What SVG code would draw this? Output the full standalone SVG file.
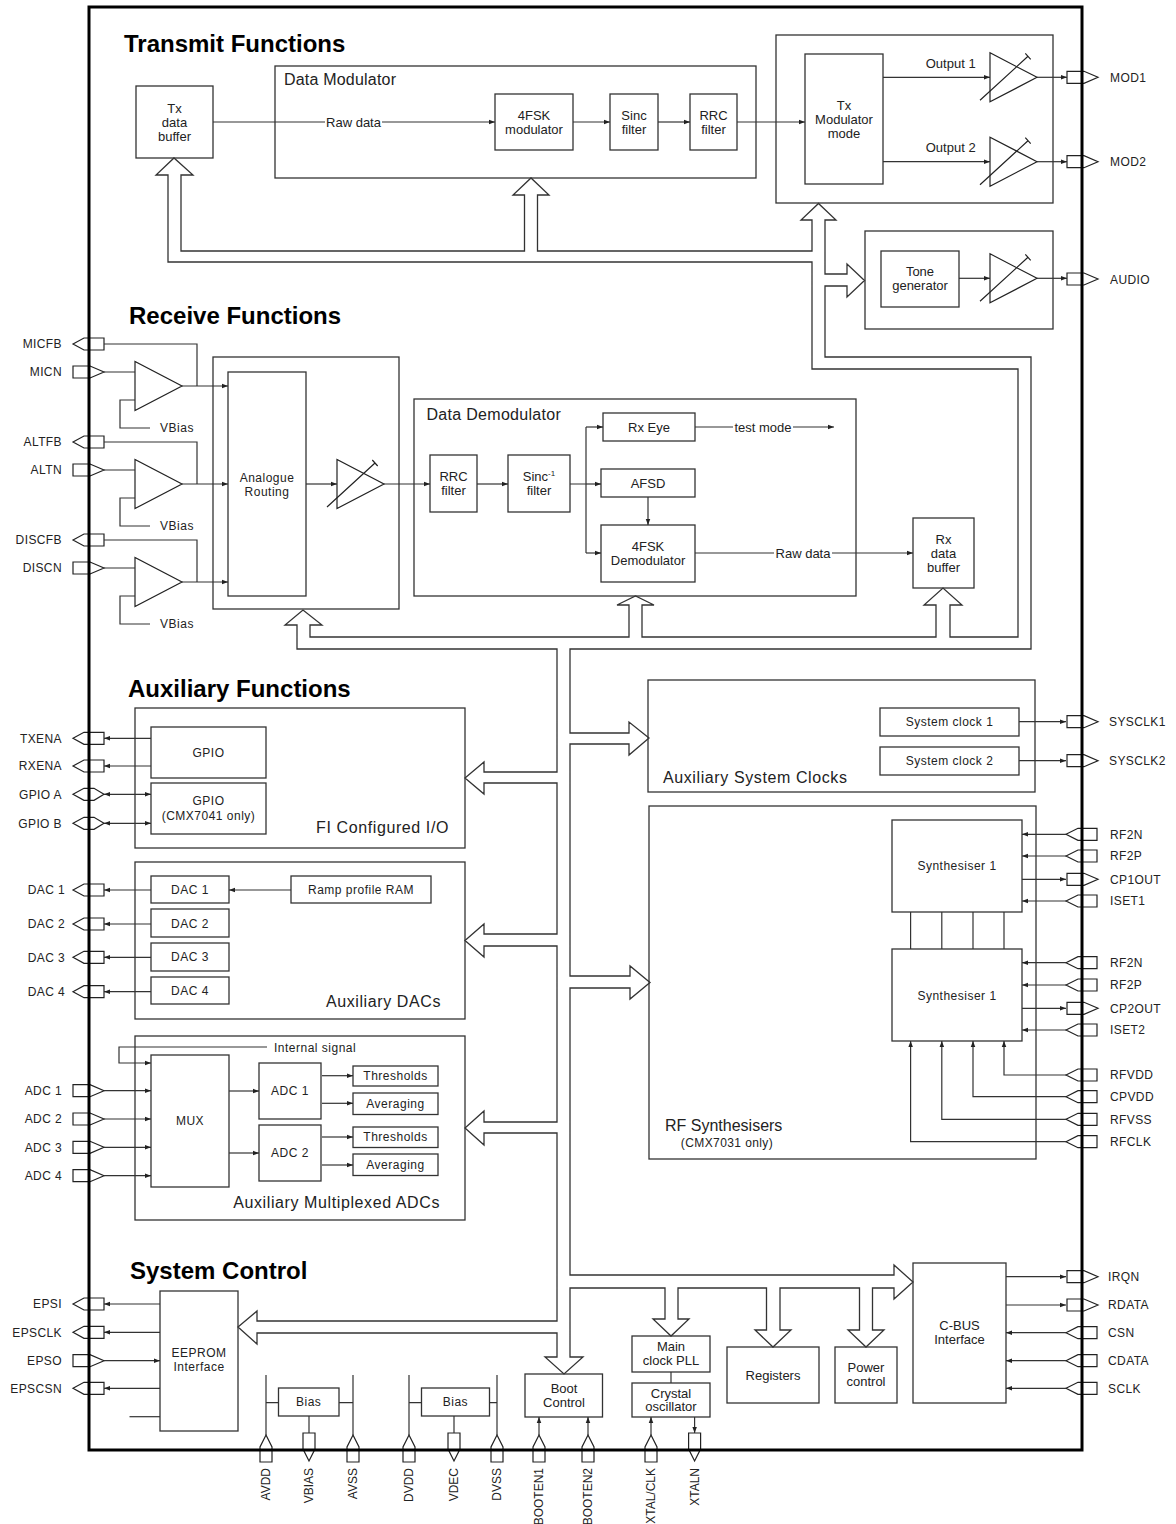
<svg xmlns="http://www.w3.org/2000/svg" xmlns:xlink="http://www.w3.org/1999/xlink" width="1176" height="1524" viewBox="0 0 1176 1524">
<defs>
<style>
.box{fill:none;stroke:#333;stroke-width:1.3}
.ln{fill:none;stroke:#333;stroke-width:1.2}
.ar{marker-end:url(#a)}
.ab{marker-start:url(#a);marker-end:url(#a)}
.bus{fill:none;stroke:#333;stroke-width:1.3;stroke-linejoin:miter}
.pin{fill:#fff;stroke:#222;stroke-width:1.2}
.amp{fill:none;stroke:#222;stroke-width:1.2}
text{font-family:"Liberation Sans",Arial,Helvetica,sans-serif;fill:#222}
.t{font-size:13px;text-anchor:middle}
.w{font-size:12px;letter-spacing:0.5px;text-anchor:middle}
.ws{font-size:12px;letter-spacing:0.5px;text-anchor:start}
.title{font-size:24px;font-weight:bold;fill:#000}
.sec{font-size:16px;letter-spacing:0.6px}
.pl{font-size:12px;letter-spacing:0.4px;text-anchor:end}
.pr{font-size:12px;letter-spacing:0.4px}
.pb{font-size:12px;text-anchor:end}
</style>
<marker id="a" viewBox="0 0 8 8" refX="8" refY="4" markerWidth="6" markerHeight="6" markerUnits="userSpaceOnUse" orient="auto-start-reverse"><path d="M0,1 L8,4 L0,7 Z" fill="#222"/></marker>
<path id="pLO" d="M-16,0 L-5,-6 H15 V6 H-5 Z"/>
<path id="pLI" d="M-16,-6 H1 L15,0 L1,6 H-16 Z"/>
<path id="pLB" d="M-16,0 L-5,-6 H5 L15,0 L5,6 H-5 Z"/>
<path id="pRO" d="M-15,-6 H2 L16,0 L2,6 H-15 Z"/>
<path id="pRI" d="M-16,0 L-4,-6 H15 V6 H-4 Z"/>
<path id="pBI" d="M0,-15 L6,-3 V12 H-6 V-3 Z"/>
<path id="pBO" d="M-6,-17 H6 V-1 L0,11 L-6,-1 Z"/>
<g id="vamp" class="amp"><path d="M0,-24.5 V24.5 L47,0 Z"/><path d="M-10,23 L38,-21 M35.3,-24 L40.7,-18"/></g>
<path id="amp" class="amp" d="M0,-24.5 V24.5 L47,0 Z"/>
</defs>
<rect width="1176" height="1524" fill="#fff"/>

<!-- pins -->
<g id="pins" class="pin">
<use href="#pRO" x="1082" y="77.3"/><use href="#pRO" x="1082" y="161.7"/><use href="#pRO" x="1082" y="279"/>
<use href="#pLO" x="89" y="344"/><use href="#pLI" x="89" y="372"/>
<use href="#pLO" x="89" y="442"/><use href="#pLI" x="89" y="470"/>
<use href="#pLO" x="89" y="540"/><use href="#pLI" x="89" y="568"/>
<use href="#pLO" x="89" y="738.3"/><use href="#pLO" x="89" y="766"/>
<use href="#pLB" x="89" y="794.3"/><use href="#pLB" x="89" y="823.3"/>
<use href="#pLO" x="89" y="890"/><use href="#pLO" x="89" y="924"/><use href="#pLO" x="89" y="957.3"/><use href="#pLO" x="89" y="991.7"/>
<use href="#pLI" x="89" y="1090.7"/><use href="#pLI" x="89" y="1119"/><use href="#pLI" x="89" y="1147.3"/><use href="#pLI" x="89" y="1175.7"/>
<use href="#pLO" x="89" y="1304"/><use href="#pLO" x="89" y="1332.3"/><use href="#pLI" x="89" y="1360.7"/><use href="#pLO" x="89" y="1388.3"/>
<use href="#pRO" x="1082" y="721.7"/><use href="#pRO" x="1082" y="760.7"/>
<use href="#pRI" x="1082" y="834.3"/><use href="#pRI" x="1082" y="856"/><use href="#pRO" x="1082" y="879.3"/><use href="#pRI" x="1082" y="901"/>
<use href="#pRI" x="1082" y="962.7"/><use href="#pRI" x="1082" y="985"/><use href="#pRO" x="1082" y="1008.3"/><use href="#pRI" x="1082" y="1030"/>
<use href="#pRI" x="1082" y="1075"/><use href="#pRI" x="1082" y="1096.7"/><use href="#pRI" x="1082" y="1119.3"/><use href="#pRI" x="1082" y="1141.7"/>
<use href="#pRO" x="1082" y="1276.7"/><use href="#pRO" x="1082" y="1305"/><use href="#pRI" x="1082" y="1332.7"/><use href="#pRI" x="1082" y="1360.7"/><use href="#pRI" x="1082" y="1388.3"/>
<use href="#pBI" x="266" y="1450"/><use href="#pBO" x="309" y="1450"/><use href="#pBI" x="353" y="1450"/>
<use href="#pBI" x="409" y="1450"/><use href="#pBO" x="454" y="1450"/><use href="#pBI" x="497" y="1450"/>
<use href="#pBI" x="539" y="1450"/><use href="#pBI" x="588" y="1450"/>
<use href="#pBI" x="651" y="1450"/><use href="#pBO" x="694.6" y="1450"/>
</g>

<g id="chip"><rect x="89" y="7" width="993" height="1443" fill="none" stroke="#000" stroke-width="3"/></g>

<g id="titles">
<text class="title" x="124" y="52">Transmit Functions</text>
<text class="title" x="129" y="324">Receive Functions</text>
<text class="title" x="128" y="697">Auxiliary Functions</text>
<text class="title" x="130" y="1279">System Control</text>
</g>

<g id="pin-labels">
<text class="pr" x="1110" y="81.5">MOD1</text>
<text class="pr" x="1110" y="166">MOD2</text>
<text class="pr" x="1110" y="283.5">AUDIO</text>
<text class="pl" x="62" y="348.3">MICFB</text>
<text class="pl" x="62" y="376.3">MICN</text>
<text class="pl" x="62" y="446.3">ALTFB</text>
<text class="pl" x="62" y="474.3">ALTN</text>
<text class="pl" x="62" y="544.3">DISCFB</text>
<text class="pl" x="62" y="572.3">DISCN</text>
<text class="pl" x="62" y="742.6">TXENA</text>
<text class="pl" x="62" y="770.3">RXENA</text>
<text class="pl" x="62" y="798.6">GPIO A</text>
<text class="pl" x="62" y="827.6">GPIO B</text>
<text class="pl" x="65" y="894.3">DAC 1</text>
<text class="pl" x="65" y="928.3">DAC 2</text>
<text class="pl" x="65" y="961.6">DAC 3</text>
<text class="pl" x="65" y="996">DAC 4</text>
<text class="pl" x="62" y="1095">ADC 1</text>
<text class="pl" x="62" y="1123.3">ADC 2</text>
<text class="pl" x="62" y="1151.6">ADC 3</text>
<text class="pl" x="62" y="1180">ADC 4</text>
<text class="pl" x="62" y="1308.3">EPSI</text>
<text class="pl" x="62" y="1336.6">EPSCLK</text>
<text class="pl" x="62" y="1365">EPSO</text>
<text class="pl" x="62" y="1392.6">EPSCSN</text>
<text class="pr" x="1109" y="726">SYSCLK1</text>
<text class="pr" x="1109" y="765">SYSCLK2</text>
<text class="pr" x="1110" y="838.6">RF2N</text>
<text class="pr" x="1110" y="860.3">RF2P</text>
<text class="pr" x="1110" y="883.6">CP1OUT</text>
<text class="pr" x="1110" y="905.3">ISET1</text>
<text class="pr" x="1110" y="967">RF2N</text>
<text class="pr" x="1110" y="989.3">RF2P</text>
<text class="pr" x="1110" y="1012.6">CP2OUT</text>
<text class="pr" x="1110" y="1034.3">ISET2</text>
<text class="pr" x="1110" y="1079.3">RFVDD</text>
<text class="pr" x="1110" y="1101">CPVDD</text>
<text class="pr" x="1110" y="1123.6">RFVSS</text>
<text class="pr" x="1110" y="1146">RFCLK</text>
<text class="pr" x="1108" y="1281">IRQN</text>
<text class="pr" x="1108" y="1309.3">RDATA</text>
<text class="pr" x="1108" y="1337">CSN</text>
<text class="pr" x="1108" y="1365">CDATA</text>
<text class="pr" x="1108" y="1392.6">SCLK</text>
<text class="pb" transform="translate(270.3,1468) rotate(-90)">AVDD</text>
<text class="pb" transform="translate(313.3,1468) rotate(-90)">VBIAS</text>
<text class="pb" transform="translate(357.3,1468) rotate(-90)">AVSS</text>
<text class="pb" transform="translate(413.3,1468) rotate(-90)">DVDD</text>
<text class="pb" transform="translate(458.3,1468) rotate(-90)">VDEC</text>
<text class="pb" transform="translate(501.3,1468) rotate(-90)">DVSS</text>
<text class="pb" transform="translate(543.3,1468) rotate(-90)">BOOTEN1</text>
<text class="pb" transform="translate(592.3,1468) rotate(-90)">BOOTEN2</text>
<text class="pb" transform="translate(655.3,1468) rotate(-90)">XTAL/CLK</text>
<text class="pb" transform="translate(698.9,1468) rotate(-90)">XTALN</text>
</g>

<!-- Transmit -->
<g id="tx-data-buffer"><rect class="box" x="136" y="86" width="77" height="72"/>
<text class="t" x="174.5" y="112.8">Tx</text><text class="t" x="174.5" y="127.2">data</text><text class="t" x="174.5" y="141.2">buffer</text></g>
<g id="data-modulator"><rect class="box" x="275" y="66" width="481" height="112"/>
<text class="sec" x="284" y="85" style="letter-spacing:0.2px">Data Modulator</text></g>
<g id="fsk-modulator"><rect class="box" x="495" y="94" width="78" height="56"/>
<text class="t" x="534" y="119.5">4FSK</text><text class="t" x="534" y="133.5">modulator</text></g>
<g id="sinc-filter"><rect class="box" x="610" y="94" width="48" height="56"/>
<text class="t" x="634" y="119.5">Sinc</text><text class="t" x="634" y="133.5">filter</text></g>
<g id="rrc-filter-tx"><rect class="box" x="690" y="94" width="47" height="56"/>
<text class="t" x="713.5" y="119.5">RRC</text><text class="t" x="713.5" y="133.5">filter</text></g>
<g id="tx-output"><rect class="box" x="776" y="35" width="277" height="168"/>
<text class="t" x="950.7" y="68">Output 1</text><text class="t" x="950.7" y="152">Output 2</text>
<use href="#vamp" x="990" y="77.3"/><use href="#vamp" x="990" y="161.7"/></g>
<g id="tx-modulator-mode"><rect class="box" x="805" y="54" width="78" height="130"/>
<text class="t" x="844" y="109.8">Tx</text><text class="t" x="844" y="123.8">Modulator</text><text class="t" x="844" y="137.8">mode</text></g>
<g id="tone"><rect class="box" x="865" y="231" width="188" height="98"/>
<rect class="box" x="881" y="251" width="78" height="56"/>
<text class="t" x="920" y="276">Tone</text><text class="t" x="920" y="290">generator</text>
<use href="#vamp" x="990" y="278.3"/></g>

<!-- Receive -->
<g id="mic-amps">
<use href="#amp" x="135" y="386"/><use href="#amp" x="135" y="484"/><use href="#amp" x="135" y="582"/>
<text class="w" x="177" y="432.2">VBias</text><text class="w" x="177" y="530.2">VBias</text><text class="w" x="177" y="628.2">VBias</text>
</g>
<g id="analogue-routing"><rect class="box" x="213" y="357" width="186" height="252"/>
<rect class="box" x="228" y="372" width="78" height="224"/>
<text class="w" x="267" y="481.5">Analogue</text><text class="w" x="267" y="495.5">Routing</text>
<use href="#vamp" x="337" y="484"/></g>
<g id="data-demodulator"><rect class="box" x="414" y="399" width="442" height="197"/>
<text class="sec" x="426.5" y="420" style="letter-spacing:0.3px">Data Demodulator</text></g>
<g id="rrc-filter-rx"><rect class="box" x="430" y="455" width="47" height="57"/>
<text class="t" x="453.5" y="481">RRC</text><text class="t" x="453.5" y="495">filter</text></g>
<g id="sinc-inv-filter"><rect class="box" x="508" y="455" width="62" height="57"/>
<text class="t" x="539" y="481">Sinc<tspan dy="-5" font-size="8">-1</tspan></text><text class="t" x="539" y="495">filter</text></g>
<g id="rx-eye"><rect class="box" x="603" y="413" width="92" height="28"/><text class="t" x="649" y="431.5">Rx Eye</text></g>
<g id="afsd"><rect class="box" x="601" y="469" width="94" height="28"/><text class="t" x="648" y="487.5">AFSD</text></g>
<g id="fsk-demodulator"><rect class="box" x="601" y="525" width="94" height="57"/>
<text class="t" x="648" y="550.5">4FSK</text><text class="t" x="648" y="564.5">Demodulator</text></g>
<g id="rx-data-buffer"><rect class="box" x="913" y="518" width="61" height="70"/>
<text class="t" x="943.5" y="543.8">Rx</text><text class="t" x="943.5" y="557.8">data</text><text class="t" x="943.5" y="571.8">buffer</text></g>

<!-- Auxiliary -->
<g id="fi-io"><rect class="box" x="135" y="708" width="330" height="140"/>
<rect class="box" x="151" y="727" width="115" height="51"/><text class="w" x="208.5" y="756.5">GPIO</text>
<rect class="box" x="151" y="783" width="115" height="51"/><text class="w" x="208.5" y="805">GPIO</text><text class="w" x="208.5" y="819.5">(CMX7041 only)</text>
<text class="sec" x="449" y="833" text-anchor="end">FI Configured I/O</text></g>
<g id="aux-dacs"><rect class="box" x="135" y="862" width="330" height="157"/>
<rect class="box" x="151" y="876" width="78" height="27"/><text class="w" x="190" y="894">DAC 1</text>
<rect class="box" x="151" y="909" width="78" height="28"/><text class="w" x="190" y="927.5">DAC 2</text>
<rect class="box" x="151" y="943" width="78" height="28"/><text class="w" x="190" y="961.2">DAC 3</text>
<rect class="box" x="151" y="977" width="78" height="27"/><text class="w" x="190" y="995">DAC 4</text>
<rect class="box" x="291" y="876" width="140" height="27"/><text class="w" x="361" y="894">Ramp profile RAM</text>
<text class="sec" x="441" y="1007" text-anchor="end">Auxiliary DACs</text></g>
<g id="aux-adcs"><rect class="box" x="135" y="1036" width="330" height="184"/>
<rect class="box" x="151" y="1055" width="78" height="132"/><text class="w" x="190" y="1125">MUX</text>
<text class="ws" x="274" y="1051.5">Internal signal</text>
<rect class="box" x="259" y="1063" width="62" height="56"/><text class="w" x="290" y="1095.3">ADC 1</text>
<rect class="box" x="259" y="1125" width="62" height="56"/><text class="w" x="290" y="1157">ADC 2</text>
<rect class="box" x="353" y="1066" width="85" height="20"/><text class="w" x="395.5" y="1080">Thresholds</text>
<rect class="box" x="353" y="1093" width="85" height="21.5"/><text class="w" x="395.5" y="1107.7">Averaging</text>
<rect class="box" x="353" y="1127" width="85" height="20.5"/><text class="w" x="395.5" y="1141.2">Thresholds</text>
<rect class="box" x="353" y="1154" width="85" height="21.5"/><text class="w" x="395.5" y="1169.2">Averaging</text>
<text class="sec" x="440" y="1208" text-anchor="end">Auxiliary Multiplexed ADCs</text></g>
<g id="aux-clocks"><rect class="box" x="648" y="680" width="387" height="112"/>
<rect class="box" x="880" y="708" width="139" height="28"/><text class="w" x="949.5" y="726">System clock 1</text>
<rect class="box" x="880" y="747" width="139" height="28"/><text class="w" x="949.5" y="765">System clock 2</text>
<text class="sec" x="663" y="783">Auxiliary System Clocks</text></g>
<g id="rf-synth"><rect class="box" x="649" y="806" width="387" height="353"/>
<rect class="box" x="892" y="820" width="130" height="92"/><text class="w" x="957" y="870">Synthesiser 1</text>
<rect class="box" x="892" y="949" width="130" height="92"/><text class="w" x="957" y="999.5">Synthesiser 1</text>
<text class="sec" x="665" y="1131" style="letter-spacing:0">RF Synthesisers</text>
<text class="w" x="727" y="1146.5" style="letter-spacing:0.4px">(CMX7031 only)</text></g>

<!-- System control -->
<g id="eeprom"><rect class="box" x="160" y="1291" width="78" height="140"/>
<text class="w" x="199" y="1357">EEPROM</text><text class="w" x="199" y="1371">Interface</text></g>
<g id="bias-analog"><rect class="box" x="278.5" y="1388" width="60.5" height="28"/><text class="w" x="308.7" y="1406.2">Bias</text></g>
<g id="bias-digital"><rect class="box" x="421.5" y="1388" width="68" height="28"/><text class="w" x="455.4" y="1406.2">Bias</text></g>
<g id="boot-control"><rect class="box" x="525" y="1374" width="77.5" height="43"/>
<text class="t" x="564" y="1392.5">Boot</text><text class="t" x="564" y="1406.5">Control</text></g>
<g id="main-clock-pll"><rect class="box" x="632" y="1336" width="78" height="36"/>
<text class="t" x="671" y="1350.5">Main</text><text class="t" x="671" y="1364.5">clock PLL</text></g>
<g id="crystal-osc"><rect class="box" x="632" y="1383" width="78" height="34"/>
<text class="t" x="671" y="1397.5">Crystal</text><text class="t" x="671" y="1411">oscillator</text></g>
<g id="registers"><rect class="box" x="727" y="1347" width="92" height="56"/><text class="t" x="773" y="1379.5">Registers</text></g>
<g id="power-control"><rect class="box" x="835" y="1347" width="62" height="56"/>
<text class="t" x="866" y="1371.5">Power</text><text class="t" x="866" y="1385.5">control</text></g>
<g id="cbus"><rect class="box" x="913" y="1263" width="93" height="140"/>
<text class="t" x="959.5" y="1329.5">C-BUS</text><text class="t" x="959.5" y="1343.5">Interface</text></g>

<!-- connectors -->
<g id="connectors">
<path class="bus" d="M168,262 V175 H156 L174,158 L193,175 H181 V251 H524.5 V195 H513 L531,178 L549,195 H537.5 V251 H812 V220 H801 L818.5,203.5 L836,220 H825 V274 H847 V264 L864.5,280.5 L847,297 V286 H825 V357 H1031 V649 H570 V733 H629 V722 L649,738 L629,755 V744 H570 V976 H630 V966 L650,982.5 L630,999 V988 H570 V1275 H894 V1265 L913,1282 L894,1299 V1288 H872.5 V1330 H884 L866,1347 L848,1330 H859.5 V1288 H780 V1330 H791 L773,1347 L755,1330 H766.5 V1288 H678 V1319 H689 L671,1336 L653,1319 H665 V1288 H570 V1357 H583 L564,1374 L545,1357 H557 V1333 H257 V1344 L238,1327 L257,1311 V1321 H557 V1133 H484 V1145 L465,1128 L484,1111 V1122 H557 V946 H484 V957 L465,940.5 L484,924 V934 H557 V783 H484 V794 L465,778 L484,762 V772 H557 V649 H297 V625 H285 L303,610 L322,625 H310 V637 H629 V605 H617 L635.5,596 L654,605 H642 V637 H936 V605 H924 L943,588 L962,605 H950 V637 H1018 V369 H812 V262 Z"/>
<path class="ln" d="M213,122 H325"/><path class="ln ar" d="M382,122 H495"/>
<path class="ln ar" d="M573,122 H610"/><path class="ln ar" d="M658,122 H690"/><path class="ln ar" d="M737,122 H805"/>
<path class="ln ar" d="M883,77.3 H990"/><path class="ln ar" d="M883,161.7 H990"/>
<path class="ln ar" d="M1037,77.3 H1067"/><path class="ln ar" d="M1037,161.7 H1067"/>
<path class="ln ar" d="M959,278.3 H990"/><path class="ln ar" d="M1037,278.3 H1067"/>
<path class="ln" d="M104,344 H197 V386 M104,372 H135 M135,400 H120 V428 H150"/><path class="ln ar" d="M182,386 H228"/>
<path class="ln" d="M104,442 H197 V484 M104,470 H135 M135,498 H120 V526 H150"/><path class="ln ar" d="M182,484 H228"/>
<path class="ln" d="M104,540 H197 V582 M104,568 H135 M135,596 H120 V624 H150"/><path class="ln ar" d="M182,582 H228"/>
<path class="ln ar" d="M306,484 H337"/><path class="ln ar" d="M384,484 H430"/><path class="ln ar" d="M477,484 H508"/>
<path class="ln" d="M570,484 H586 M586,427 V553"/>
<path class="ln ar" d="M586,427 H603"/><path class="ln ar" d="M586,484 H601"/><path class="ln ar" d="M586,553 H601"/>
<path class="ln ar" d="M648,497 V525"/>
<path class="ln" d="M695,427 H733"/><path class="ln ar" d="M793,427 H834"/>
<path class="ln" d="M695,553 H774"/><path class="ln ar" d="M832,553 H913"/>
<path class="ln ar" d="M151,738.3 H104"/><path class="ln ar" d="M151,766 H104"/>
<path class="ln ab" d="M104,794.3 H151"/><path class="ln ab" d="M104,823.3 H151"/>
<path class="ln ar" d="M291,890 H229"/>
<path class="ln ar" d="M151,890 H104"/><path class="ln ar" d="M151,924 H104"/><path class="ln ar" d="M151,957.3 H104"/><path class="ln ar" d="M151,991.7 H104"/>
<path class="ln ar" d="M267,1047 H119 V1063 H151"/>
<path class="ln ar" d="M104,1090.7 H151"/><path class="ln ar" d="M104,1119 H151"/><path class="ln ar" d="M104,1147.3 H151"/><path class="ln ar" d="M104,1175.7 H151"/>
<path class="ln ar" d="M229,1091 H259"/><path class="ln ar" d="M229,1153 H259"/>
<path class="ln ar" d="M322,1075.7 H353"/><path class="ln ar" d="M322,1103.3 H353"/><path class="ln ar" d="M322,1137 H353"/><path class="ln ar" d="M322,1165 H353"/>
<path class="ln ar" d="M1019,721.7 H1066"/><path class="ln ar" d="M1019,760.7 H1066"/>
<path class="ln ar" d="M1066,834.3 H1022"/><path class="ln ar" d="M1066,856 H1022"/><path class="ln ar" d="M1022,879.3 H1066"/><path class="ln ar" d="M1066,901 H1022"/>
<path class="ln ar" d="M1066,962.7 H1022"/><path class="ln ar" d="M1066,985 H1022"/><path class="ln ar" d="M1022,1008.3 H1066"/><path class="ln ar" d="M1066,1030 H1022"/>
<path class="ln" d="M910.6,912 V949 M941.8,912 V949 M973,912 V949 M1004,912 V949"/>
<path class="ln ar" d="M1066,1075 H1004 V1041"/><path class="ln ar" d="M1066,1096.7 H973 V1041"/>
<path class="ln ar" d="M1066,1119.3 H941.8 V1041"/><path class="ln ar" d="M1066,1141.7 H910.6 V1041"/>
<path class="ln ar" d="M160,1304 H104"/><path class="ln ar" d="M160,1332.3 H104"/><path class="ln ar" d="M104,1360.7 H160"/><path class="ln ar" d="M160,1388.3 H104"/>
<path class="ln" d="M129.5,1416.7 H160"/>
<path class="ln" d="M266,1375 V1435 M266,1402.7 H278.5 M353,1375 V1435 M339,1402.7 H353 M309,1416 V1433"/>
<path class="ln" d="M409,1375 V1435 M409,1402.7 H421.5 M497,1375 V1435 M489.5,1402.7 H497 M454,1416 V1433"/>
<path class="ln ar" d="M539,1435 V1417"/><path class="ln ar" d="M588,1435 V1417"/>
<path class="ln ar" d="M651,1435 V1417"/><path class="ln ar" d="M694.6,1417 V1433"/>
<path class="ln" d="M671,1372 V1383"/>
<path class="ln ar" d="M1006,1276.7 H1066"/><path class="ln ar" d="M1006,1305 H1066"/>
<path class="ln ar" d="M1066,1332.7 H1006"/><path class="ln ar" d="M1066,1360.7 H1006"/><path class="ln ar" d="M1066,1388.3 H1006"/>
</g>
<g id="connector-labels">
<text class="t" x="353.5" y="126.5">Raw data</text>
<text class="t" x="763" y="431.5">test mode</text>
<text class="t" x="803" y="557.5">Raw data</text>
</g>
</svg>
